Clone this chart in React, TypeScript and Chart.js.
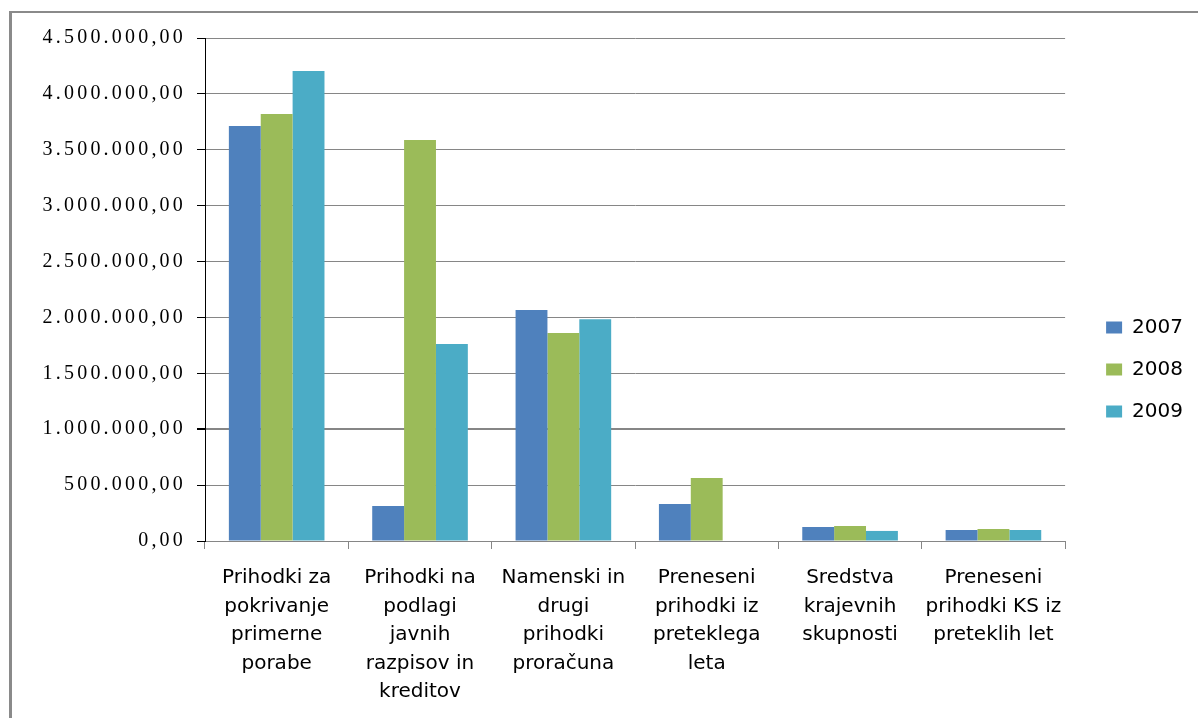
import React, { useEffect, useRef } from "react";
import { Chart, registerables } from "chart.js";

Chart.register(...registerables);

const categories: string[][] = [
  ["Prihodki za", "pokrivanje", "primerne", "porabe"],
  ["Prihodki na", "podlagi", "javnih", "razpisov in", "kreditov"],
  ["Namenski in", "drugi", "prihodki", "proračuna"],
  ["Preneseni", "prihodki iz", "preteklega", "leta"],
  ["Sredstva", "krajevnih", "skupnosti"],
  ["Preneseni", "prihodki KS iz", "preteklih let"],
];

const seriesNames = ["2007", "2008", "2009"];
const values2007 = [3713000, 313000, 2067000, 331000, 125000, 98000];
const values2008 = [3820000, 3587000, 1861000, 564000, 134000, 107000];
const values2009 = [4205000, 1762000, 1983000, 0, 90000, 98000];
const seriesColors = ["#4F81BD", "#9BBB59", "#4BACC6"];

const yMin = 0;
const yMax = 4500000;
const yStep = 500000;

function formatSl(v: number): string {
  const intPart = Math.round(v).toString();
  const withDots = intPart.replace(/\B(?=(\d{3})+(?!\d))/g, ".");
  return withDots + ",00";
}

const GRID = "#868686";

// widen the serif y-axis labels a little, like the stretched original
const ySpacingPlugin = {
  id: "ySpacing",
  afterUpdate(chart: any) {
    const s = chart.scales && chart.scales.y;
    if (!s || s.__spaced) return;
    const orig = s.drawLabels.bind(s);
    s.drawLabels = (area: any) => {
      const ctx = chart.ctx;
      ctx.save();
      try {
        (ctx as any).letterSpacing = "3.2px";
      } catch (e) {}
      orig(area);
      ctx.restore();
    };
    s.__spaced = true;
  },
};

export default function App() {
  const canvasRef = useRef<HTMLCanvasElement | null>(null);

  useEffect(() => {
    const canvas = canvasRef.current;
    if (!canvas) return;
    const chart = new Chart(canvas, {
      type: "bar",
      data: {
        labels: categories,
        datasets: [values2007, values2008, values2009].map((vals, i) => ({
          label: seriesNames[i],
          data: vals,
          backgroundColor: seriesColors[i],
          borderWidth: 0,
          categoryPercentage: 0.667,
          barPercentage: 1,
        })),
      },
      plugins: [ySpacingPlugin],
      options: {
        responsive: false,
        animation: false,
        layout: { padding: { top: 25, left: 0, right: 5, bottom: 17 } },
        plugins: {
          tooltip: { enabled: false },
          legend: {
            position: "right",
            align: "center",
            labels: {
              boxWidth: 16,
              boxHeight: 12,
              padding: 22,
              color: "#000",
              font: { family: "'DejaVu Sans'", size: 20 },
            },
          },
        },
        scales: {
          x: {
            grid: {
              display: true,
              offset: true,
              drawOnChartArea: false,
              drawTicks: true,
              tickLength: 8,
              color: GRID,
            },
            border: { display: true, color: GRID },
            ticks: {
              color: "#000",
              padding: 14.5,
              maxRotation: 0,
              autoSkip: false,
              font: { family: "'DejaVu Sans'", size: 20, lineHeight: 1.43 },
            },
            afterFit: (s: any) => {
              s.height = 160;
            },
          },
          y: {
            min: yMin,
            max: yMax,
            ticks: {
              stepSize: yStep,
              color: "#000",
              padding: 11,
              font: { family: "'Liberation Serif', 'Times New Roman', serif", size: 20 },
              callback: (v: any) => formatSl(Number(v)),
            },
            grid: {
              color: GRID,
              tickColor: "#000",
              tickLength: 8,
              lineWidth: (ctx: any) => (ctx.tick && ctx.tick.value === 1000000 ? 2 : 1),
            },
            border: { display: true, color: "#000", width: 1 },
            afterFit: (s: any) => {
              s.width = 193;
            },
          },
          gap: {
            type: "linear",
            position: "right",
            display: true,
            grid: { display: false },
            border: { display: false },
            ticks: { display: false },
            afterFit: (s: any) => {
              s.width = 19;
            },
          },
        },
      } as any,
    });
    return () => chart.destroy();
  }, []);

  return (
    <div
      style={{
        position: "absolute",
        left: 9,
        top: 11,
        width: 1186,
        height: 705,
        borderLeft: "3px solid #8a8a8a",
        borderTop: "2px solid #8a8a8a",
        background: "#fff",
        overflow: "hidden",
      }}
    >
      <canvas ref={canvasRef} width={1186} height={705} style={{ display: "block" }} />
    </div>
  );
}
